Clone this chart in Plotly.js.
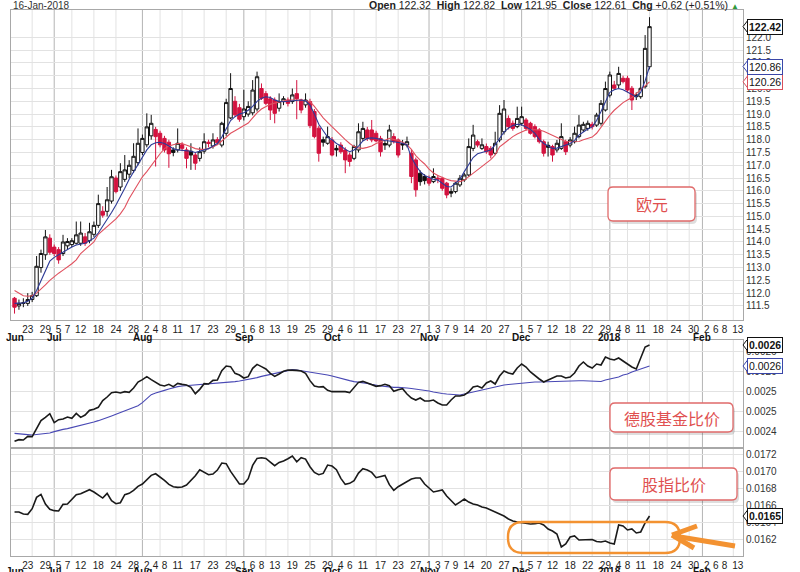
<!DOCTYPE html>
<html><head><meta charset="utf-8">
<script src="https://cdn.plot.ly/plotly-3.0.1.min.js"></script>
<style>html,body{margin:0;padding:0;background:#fff}#chart{width:800px;height:572px}</style>
</head><body><div id="chart"></div>
<script>
// ---------- trading-day calendar (x categories) ----------
const monthKeys = ['2017-06','2017-07','2017-08','2017-09','2017-10','2017-11','2017-12','2018-01','2018-02'];
const monthNames = ['Jun','Jul','Aug','Sep','Oct','Nov','Dec','2018','Feb'];
const monthDays = [
 [20,21,22,23,26,27,28,29,30],
 [3,5,6,7,10,11,12,13,14,17,18,19,20,21,24,25,26,27,28,31],
 [1,2,3,4,7,8,9,10,11,14,15,16,17,18,21,22,23,24,25,28,29,30,31],
 [1,5,6,7,8,11,12,13,14,15,18,19,20,21,22,25,26,27,28,29],
 [2,3,4,5,6,9,10,11,12,13,16,17,18,19,20,23,24,25,26,27,30,31],
 [1,2,3,6,7,8,9,10,13,14,15,16,17,20,21,22,24,27,28,29,30],
 [1,4,5,6,7,8,11,12,13,14,15,18,19,20,21,22,26,27,28,29],
 [2,3,4,5,8,9,10,11,12,16,17,18,19,22,23,24,25,26,29,30,31],
 [1,2,5,6,7,8,9,12,13]
];
const tickDates = ['2017-06-23','2017-06-29','2017-07-05','2017-07-07','2017-07-12','2017-07-18','2017-07-24','2017-07-28',
 '2017-08-02','2017-08-04','2017-08-08','2017-08-11','2017-08-17','2017-08-23','2017-08-29','2017-09-01','2017-09-06','2017-09-08',
 '2017-09-13','2017-09-19','2017-09-25','2017-09-29','2017-10-04','2017-10-06','2017-10-11','2017-10-17','2017-10-23','2017-10-27',
 '2017-11-01','2017-11-03','2017-11-07','2017-11-09','2017-11-14','2017-11-20','2017-11-27','2017-12-01','2017-12-05','2017-12-07',
 '2017-12-12','2017-12-18','2017-12-22','2017-12-29','2018-01-04','2018-01-08','2018-01-11','2018-01-18','2018-01-24','2018-01-30',
 '2018-02-02','2018-02-06','2018-02-08','2018-02-13'];
const gridDates = ['2017-06-26','2017-07-10','2017-07-17','2017-07-24','2017-08-07','2017-08-14','2017-08-21','2017-08-28',
 '2017-09-11','2017-09-18','2017-09-25','2017-10-09','2017-10-16','2017-10-23','2017-11-06','2017-11-13','2017-11-20','2017-11-27',
 '2017-12-11','2017-12-18','2017-12-26','2018-01-08','2018-01-16','2018-01-22','2018-01-29','2018-02-12'];

// ---------- Euro daily OHLC ----------
const opens = [111.80,111.50,111.60,111.60,111.75,111.90,113.00,113.50,114.15,113.80,
113.70,113.55,113.85,113.90,113.95,113.95,114.20,114.05,114.30,114.65,
115.20,115.20,115.60,116.50,116.15,116.45,116.65,116.80,117.10,117.50,
117.80,118.15,118.40,118.25,118.05,117.90,117.60,117.60,117.80,117.60,
117.55,117.40,117.27,117.55,117.90,117.75,118.00,117.79,118.25,118.85,
119.50,119.25,118.90,119.00,119.05,119.20,120.00,119.80,119.60,119.55,
119.23,119.49,119.55,119.49,119.80,119.55,119.36,119.49,119.10,118.45,
118.00,117.86,117.99,117.66,117.79,117.60,117.40,117.27,117.60,118.05,
118.38,118.38,118.25,118.05,117.85,117.79,118.12,117.99,117.85,117.79,
117.47,117.21,116.69,116.56,116.49,116.36,116.45,116.49,116.30,115.97,
115.97,116.23,116.43,116.62,117.66,117.92,117.66,117.73,117.66,117.47,
117.99,118.31,118.83,118.64,118.51,118.64,118.77,118.64,118.51,118.38,
117.92,117.78,117.73,117.60,117.66,117.92,117.79,117.92,118.12,118.38,
118.44,118.60,118.57,118.64,119.16,119.74,120.14,120.14,120.40,120.40,
120.01,119.75,119.68,120.07,120.85];
const highs = [111.85,111.75,111.80,112.00,112.05,113.45,113.70,114.47,114.30,113.90,
113.80,114.28,114.15,114.15,114.80,114.80,114.35,114.75,114.80,115.85,
115.40,116.15,116.82,116.60,117.08,117.40,117.20,117.86,118.44,118.20,
119.03,118.97,118.50,118.35,118.15,118.00,117.70,118.44,117.90,117.70,
117.86,117.50,117.70,118.25,118.00,118.25,118.10,118.70,119.60,120.60,
119.70,119.40,119.95,119.50,120.33,120.66,120.20,119.90,119.70,119.65,
119.81,119.70,119.65,120.00,120.33,119.60,119.81,119.60,119.20,118.55,
118.12,118.51,118.10,117.79,117.90,117.70,117.50,117.80,118.64,118.70,
118.50,118.77,118.35,118.15,117.95,118.58,118.25,118.05,117.99,118.12,
117.60,117.30,116.80,116.65,116.60,116.88,116.62,116.55,116.35,116.10,
116.35,116.62,116.70,118.05,118.58,118.00,118.05,117.85,117.75,118.31,
119.35,119.55,118.95,118.75,119.29,119.29,118.85,118.70,118.60,118.45,
118.00,117.92,117.80,117.99,118.64,118.00,118.10,118.51,118.96,118.70,
118.75,118.70,119.05,119.55,120.27,120.66,120.30,120.85,120.50,120.50,
120.10,119.85,120.53,122.09,122.79];
const lows = [111.20,111.35,111.45,111.50,111.65,111.85,112.80,113.30,113.50,113.45,
113.15,113.45,113.70,113.80,113.90,113.85,113.85,113.95,114.20,114.55,
114.95,115.00,115.50,115.90,116.00,116.35,116.50,116.70,117.00,117.40,
117.70,118.00,116.95,117.70,117.50,116.90,117.35,117.50,117.55,116.88,
116.82,116.82,117.15,117.45,117.70,117.65,117.80,117.70,118.15,118.80,
118.90,118.70,118.75,118.90,118.95,119.10,119.55,119.35,118.77,118.64,
119.10,119.35,119.30,119.40,118.80,119.03,119.25,118.45,118.05,117.14,
117.73,117.80,117.35,117.34,117.45,116.69,116.95,117.20,117.50,117.95,
117.95,117.90,117.90,117.34,117.60,117.70,117.85,117.30,117.60,117.70,
116.30,115.77,116.20,116.25,116.20,116.30,116.30,116.00,115.71,115.75,
115.90,116.15,116.35,116.55,117.55,117.70,117.60,117.45,117.27,117.40,
117.90,118.20,118.40,118.35,118.45,118.55,118.35,118.20,118.05,117.85,
117.34,117.34,117.14,117.50,117.60,117.40,117.70,117.85,118.05,118.30,
118.35,118.40,118.50,118.55,119.10,119.65,119.95,120.00,120.20,119.85,
119.16,119.55,119.60,120.00,120.75];
const closes = [111.45,111.60,111.62,111.75,111.90,113.05,113.55,114.20,113.60,113.55,
113.30,114.00,114.02,114.05,114.28,114.35,113.95,114.40,114.65,115.50,
115.05,115.65,116.55,115.97,116.75,116.82,117.00,117.35,117.86,118.05,
118.50,118.64,118.12,117.80,117.60,117.45,117.50,117.86,117.66,117.27,
117.40,117.08,117.53,117.92,117.85,117.99,117.88,118.64,119.45,120.00,
118.97,118.80,119.20,119.30,119.94,120.46,119.62,119.42,119.16,119.03,
119.49,119.60,119.42,119.75,119.60,119.16,119.55,118.55,118.12,117.47,
117.90,118.12,117.40,117.60,117.53,117.21,117.15,117.73,118.31,118.44,
118.05,117.99,117.95,117.53,117.79,118.38,117.92,117.40,117.79,117.92,
116.56,116.04,116.36,116.40,116.30,116.56,116.49,116.10,115.84,115.91,
116.30,116.49,116.62,117.73,118.18,117.79,117.80,117.53,117.40,117.86,
119.03,119.20,118.51,118.44,118.83,118.90,118.44,118.25,118.12,117.92,
117.47,117.70,117.40,117.86,118.12,117.53,117.99,118.25,118.57,118.60,
118.64,118.51,118.96,119.42,120.00,120.53,120.01,120.59,120.27,119.94,
119.55,119.68,120.01,121.57,122.42];
const maFast = [111.60,111.60,111.62,111.68,111.80,112.10,112.50,112.90,113.25,113.40,
113.50,113.60,113.72,113.80,113.88,113.93,113.95,114.05,114.15,114.35,
114.60,114.85,115.15,115.45,115.75,116.10,116.45,116.75,117.05,117.30,
117.60,117.80,117.88,117.90,117.85,117.75,117.65,117.60,117.58,117.55,
117.55,117.50,117.55,117.60,117.65,117.75,117.85,118.10,118.45,118.75,
118.90,119.00,119.05,119.15,119.30,119.50,119.62,119.68,119.65,119.55,
119.50,119.48,119.50,119.52,119.52,119.55,119.52,119.35,119.00,118.60,
118.35,118.10,118.00,117.85,117.75,117.62,117.53,117.60,117.75,117.95,
118.05,118.07,118.05,118.00,117.97,117.95,117.92,117.90,117.86,117.80,
117.30,117.00,116.75,116.60,116.52,116.45,116.42,116.30,116.17,116.15,
116.30,116.45,116.75,117.00,117.30,117.45,117.50,117.55,117.60,117.80,
118.05,118.30,118.45,118.55,118.60,118.58,118.50,118.40,118.25,118.00,
117.85,117.75,117.66,117.67,117.72,117.80,117.85,117.97,118.18,118.30,
118.42,118.50,118.75,119.10,119.50,119.85,119.95,120.00,119.95,119.85,
119.75,119.68,119.85,120.30,120.86];
const maSlow = [112.10,112.00,111.90,111.88,111.90,112.00,112.15,112.32,112.50,112.65,
112.78,112.90,113.02,113.15,113.30,113.55,113.70,113.85,114.00,114.30,
114.45,114.60,114.75,114.90,115.10,115.35,115.70,116.00,116.30,116.55,
116.75,117.00,117.25,117.45,117.65,117.75,117.80,117.85,117.85,117.80,
117.72,117.65,117.62,117.62,117.65,117.72,117.80,117.95,118.10,118.25,
118.35,118.45,118.55,118.65,118.85,119.05,119.20,119.30,119.38,119.43,
119.47,119.52,119.55,119.55,119.55,119.55,119.52,119.49,119.30,119.05,
118.85,118.68,118.50,118.35,118.18,118.00,117.85,117.73,117.68,117.66,
117.70,117.75,117.85,117.90,117.98,118.05,118.02,117.97,117.90,117.80,
117.62,117.38,117.20,117.05,116.85,116.70,116.60,116.52,116.45,116.40,
116.37,116.36,116.42,116.55,116.68,116.80,116.93,117.08,117.22,117.40,
117.72,117.85,118.00,118.12,118.22,118.30,118.38,118.40,118.40,118.38,
118.33,118.25,118.18,118.10,118.02,117.93,117.92,117.92,117.93,118.00,
118.05,118.10,118.25,118.50,118.75,118.96,119.15,119.30,119.45,119.55,
119.65,119.80,119.95,120.10,120.26];

// ---------- 德股基金比价 ----------
const fundRatio = [0.0024207,0.0024241,0.0024234,0.0024307,0.0024301,0.0024447,0.0024621,0.0024687,0.0024761,0.0024581,
0.0024641,0.0024654,0.0024694,0.0024667,0.0024767,0.0024687,0.0024734,0.0024827,0.0024847,0.0024887,
0.0025021,0.0025094,0.0025181,0.0025194,0.0025174,0.0025201,0.0025187,0.0025274,0.0025394,0.0025441,
0.0025501,0.0025441,0.0025387,0.0025334,0.0025314,0.0025347,0.0025301,0.0025367,0.0025347,0.0025334,
0.0025287,0.0025161,0.0025247,0.0025361,0.0025354,0.0025427,0.0025434,0.0025621,0.0025714,0.0025701,
0.0025567,0.0025534,0.0025474,0.0025501,0.0025667,0.0025747,0.0025701,0.0025654,0.0025567,0.0025507,
0.0025554,0.0025607,0.0025634,0.0025634,0.0025627,0.0025614,0.0025567,0.0025421,0.0025314,0.0025294,
0.0025301,0.0025227,0.0025201,0.0025201,0.0025201,0.0025201,0.0025181,0.0025287,0.0025387,0.0025407,
0.0025374,0.0025334,0.0025307,0.0025321,0.0025347,0.0025321,0.0025207,0.0025241,0.0025261,0.0025154,
0.0025074,0.0025034,0.0025074,0.0025014,0.0025014,0.0025034,0.0024974,0.0024934,0.0024934,0.0025034,
0.0025114,0.0025114,0.0025134,0.0025194,0.0025294,0.0025314,0.0025274,0.0025374,0.0025414,0.0025354,
0.0025514,0.0025614,0.0025574,0.0025554,0.0025674,0.0025754,0.0025694,0.0025594,0.0025514,0.0025454,
0.0025394,0.0025434,0.0025474,0.0025514,0.0025514,0.0025474,0.0025494,0.0025574,0.0025714,0.0025794,
0.0025714,0.0025674,0.0025754,0.0025734,0.0025894,0.0025854,0.0025834,0.0025874,0.0025814,0.0025754,
0.0025694,0.0025654,0.0025894,0.0026094,0.0026134];
const fundRatioMA = [0.0024367,0.0024354,0.0024347,0.0024341,0.0024334,0.0024341,0.0024347,0.0024354,0.0024374,0.0024401,
0.0024427,0.0024447,0.0024461,0.0024481,0.0024501,0.0024521,0.0024547,0.0024567,0.0024594,0.0024621,
0.0024647,0.0024681,0.0024714,0.0024747,0.0024781,0.0024821,0.0024854,0.0024887,0.0024921,0.0024981,
0.0025061,0.0025141,0.0025174,0.0025207,0.0025227,0.0025254,0.0025281,0.0025301,0.0025314,0.0025321,
0.0025327,0.0025334,0.0025334,0.0025341,0.0025347,0.0025361,0.0025367,0.0025374,0.0025381,0.0025394,
0.0025401,0.0025414,0.0025427,0.0025447,0.0025461,0.0025481,0.0025507,0.0025527,0.0025547,0.0025574,
0.0025594,0.0025607,0.0025627,0.0025641,0.0025634,0.0025621,0.0025607,0.0025594,0.0025567,0.0025561,
0.0025547,0.0025534,0.0025514,0.0025487,0.0025467,0.0025447,0.0025421,0.0025401,0.0025394,0.0025381,
0.0025367,0.0025347,0.0025327,0.0025314,0.0025307,0.0025294,0.0025287,0.0025287,0.0025274,0.0025274,
0.0025264,0.0025254,0.0025234,0.0025224,0.0025214,0.0025194,0.0025174,0.0025164,0.0025154,0.0025144,
0.0025134,0.0025134,0.0025154,0.0025174,0.0025194,0.0025224,0.0025244,0.0025264,0.0025284,0.0025304,
0.0025314,0.0025334,0.0025344,0.0025354,0.0025364,0.0025374,0.0025384,0.0025384,0.0025394,0.0025394,
0.0025398,0.0025404,0.0025408,0.0025414,0.0025414,0.0025416,0.0025418,0.0025420,0.0025420,0.0025418,
0.0025416,0.0025414,0.0025414,0.0025404,0.0025434,0.0025454,0.0025474,0.0025494,0.0025534,0.0025554,
0.0025594,0.0025624,0.0025654,0.0025684,0.0025714];

// ---------- 股指比价 ----------
const indexRatio = [0.016520,0.016520,0.016497,0.016493,0.016559,0.016692,0.016727,0.016614,0.016551,0.016536,
0.016532,0.016610,0.016614,0.016665,0.016723,0.016735,0.016762,0.016782,0.016755,0.016719,
0.016684,0.016739,0.016653,0.016618,0.016629,0.016723,0.016739,0.016774,0.016821,0.016848,
0.016895,0.016950,0.016969,0.016934,0.016891,0.016844,0.016817,0.016809,0.016813,0.016837,
0.016887,0.016946,0.017016,0.016989,0.016958,0.016966,0.017012,0.017095,0.017087,0.016997,
0.016915,0.016848,0.016848,0.016911,0.017067,0.017149,0.017157,0.017149,0.017106,0.017063,
0.017102,0.017118,0.017145,0.017177,0.017110,0.017157,0.017141,0.017051,0.016985,0.016958,
0.016973,0.017071,0.017059,0.017016,0.016915,0.016844,0.016856,0.016887,0.016977,0.017028,
0.017012,0.016985,0.016923,0.016938,0.016950,0.016841,0.016774,0.016817,0.016848,0.016872,
0.016907,0.016919,0.016919,0.016848,0.016801,0.016755,0.016766,0.016778,0.016708,0.016649,
0.016602,0.016637,0.016672,0.016637,0.016614,0.016602,0.016579,0.016567,0.016544,0.016520,
0.016497,0.016473,0.016438,0.016415,0.016403,0.016393,0.016384,0.016379,0.016384,0.016391,
0.016368,0.016321,0.016297,0.016262,0.016110,0.016145,0.016227,0.016239,0.016192,0.016192,
0.016198,0.016198,0.016174,0.016168,0.016180,0.016157,0.016145,0.016368,0.016356,0.016309,
0.016321,0.016274,0.016286,0.016391,0.016473];

// ---------- header / ticks ----------
const headerDate = '16-Jan-2018';
const hdrOpen = '122.32', hdrHigh = '122.82', hdrLow = '121.95', hdrClose = '122.61', hdrChg = '+0.62 (+0.51%)';
const priceTicks = [111.5,112,112.5,113,113.5,114,114.5,115,115.5,116,116.5,117,117.5,118,118.5,119,119.5,120,120.5,121,121.5,122];
const fundTicks = [0.00244,0.00248,0.00252,0.00256,0.00260];
const indexTicks = [0.0162,0.0164,0.0166,0.0168,0.0170,0.0172];
const labelEuro = '欧元', labelFund = '德股基金比价', labelIndex = '股指比价';

// ---------- build ----------
const dates = [];
monthKeys.forEach((m, k) => monthDays[k].forEach(d => dates.push(m + '-' + String(d).padStart(2, '0'))));
const idx = d => dates.indexOf(d);
const n = closes.length;
const xs = closes.map((_, i) => i);
const RED = '#d3123f';

const blackIds = [], redIds = [];
closes.forEach((c, i) => { const ref = i === 0 ? opens[0] : closes[i - 1]; (c >= ref ? blackIds : redIds).push(i); });
const pick = (arr, ids) => ids.map(i => arr[i]);
function candles(ids, col, fillDown) {
  return { type: 'candlestick', xaxis: 'x', yaxis: 'y', x: ids, open: pick(opens, ids), high: pick(highs, ids),
    low: pick(lows, ids), close: pick(closes, ids), whiskerwidth: 0, hoverinfo: 'skip',
    increasing: { line: { color: col, width: 1 }, fillcolor: '#ffffff' },
    decreasing: { line: { color: col, width: 1 }, fillcolor: fillDown } };
}
const data = [
  candles(blackIds, '#111111', '#111111'),
  candles(redIds, RED, RED),
  { type: 'scatter', mode: 'lines', x: xs, y: maSlow, xaxis: 'x', yaxis: 'y', line: { color: '#e0505e', width: 1.1 }, hoverinfo: 'skip' },
  { type: 'scatter', mode: 'lines', x: xs, y: maFast, xaxis: 'x', yaxis: 'y', line: { color: '#2d3a96', width: 1.1 }, hoverinfo: 'skip' },
  { type: 'scatter', mode: 'lines', x: xs, y: fundRatioMA, xaxis: 'x2', yaxis: 'y2', line: { color: '#4848b4', width: 1.1 }, hoverinfo: 'skip' },
  { type: 'scatter', mode: 'lines', x: xs, y: fundRatio, xaxis: 'x2', yaxis: 'y2', line: { color: '#1a1a1a', width: 1.6 }, hoverinfo: 'skip' },
  { type: 'scatter', mode: 'lines', x: xs, y: indexRatio, xaxis: 'x3', yaxis: 'y3', line: { color: '#1a1a1a', width: 1.6 }, hoverinfo: 'skip' }
];

const L = 11, R = 743, T = 10, B = 556, PW = R - L, PH = B - T;
const X = px => (px - L) / PW, Y = py => (B - py) / PH;
const xRange = [-0.8, 165.2];
const tickvals = tickDates.map(idx), ticktext = tickDates.map(d => String(parseInt(d.slice(8), 10)));
const baseX = { range: xRange, showgrid: false, zeroline: false, showline: true, mirror: true, linecolor: '#a8a8a8', linewidth: 1,
  ticks: '', tickangle: 0, tickvals: tickvals, ticktext: ticktext, tickfont: { size: 10, color: '#222' }, fixedrange: true };
const baseY = { side: 'right', showgrid: true, gridcolor: '#e2e2e2', gridwidth: 1, zeroline: false, showline: true, mirror: true,
  linecolor: '#a8a8a8', linewidth: 1, ticks: '', tickfont: { size: 10, color: '#333' }, fixedrange: true };

const shapes = [];
const refs = [['x', 'y'], ['x2', 'y2'], ['x3', 'y3']];
gridDates.forEach(d => { const i = idx(d); refs.forEach(r => shapes.push({ type: 'line', xref: r[0], yref: r[1] + ' domain', x0: i, x1: i, y0: 0, y1: 1, line: { color: '#e2e2e2', width: 1 }, layer: 'below' })); });
const monthStart = monthKeys.map(m => dates.findIndex(d => d.startsWith(m)));
monthStart.slice(1).forEach(i => refs.forEach(r => shapes.push({ type: 'line', xref: r[0], yref: r[1] + ' domain', x0: i, x1: i, y0: 0, y1: 1, line: { color: '#b4b4b4', width: 1 }, layer: 'below' })));

function roundRect(x0, y0, x1, y1, r) {
  const p = (a, b) => X(a) + ',' + Y(b);
  return 'M' + p(x0 + r, y0) + ' L' + p(x1 - r, y0) + ' Q' + p(x1, y0) + ' ' + p(x1, y0 + r) + ' L' + p(x1, y1 - r) +
    ' Q' + p(x1, y1) + ' ' + p(x1 - r, y1) + ' L' + p(x0 + r, y1) + ' Q' + p(x0, y1) + ' ' + p(x0, y1 - r) +
    ' L' + p(x0, y0 + r) + ' Q' + p(x0, y0) + ' ' + p(x0 + r, y0) + ' Z';
}
const boxes = [[608, 187, 695, 221, labelEuro], [610, 403, 733, 432, labelFund], [610, 468, 737, 500, labelIndex]];
const annotations = [];
boxes.forEach(b => {
  shapes.push({ type: 'path', xref: 'paper', yref: 'paper', path: roundRect(b[0] + 2, b[1] + 3, b[2] + 2, b[3] + 3, 5), fillcolor: 'rgba(0,0,0,0.13)', line: { width: 0 }, layer: 'above' });
  shapes.push({ type: 'path', xref: 'paper', yref: 'paper', path: roundRect(b[0], b[1], b[2], b[3], 5), fillcolor: '#ffffff', line: { color: '#e06a6a', width: 1.3 }, layer: 'above' });
  annotations.push({ xref: 'paper', yref: 'paper', x: X((b[0] + b[2]) / 2), y: Y((b[1] + b[3]) / 2), text: b[4], showarrow: false,
    xanchor: 'center', yanchor: 'middle', font: { family: 'Noto Sans CJK SC', size: 16, color: '#e05050' } });
});
// orange highlight + arrow
const ORANGE = '#f39231';
shapes.push({ type: 'path', xref: 'paper', yref: 'paper', path: roundRect(508, 522, 680, 553, 15), line: { color: ORANGE, width: 2.4 }, layer: 'above' });
[[674, 536, 735, 546], [672, 535, 697, 526], [672, 535, 694, 548]].forEach(s =>
  shapes.push({ type: 'line', xref: 'paper', yref: 'paper', x0: X(s[0]), y0: Y(s[1]), x1: X(s[2]), y1: Y(s[3]), line: { color: ORANGE, width: 5 }, layer: 'above' }));

// value tags on the right
function tag(yref, val, text, col, bold) {
  shapes.push({ type: 'path', xref: 'paper', yref: yref, xsizemode: 'pixel', ysizemode: 'pixel', xanchor: 1, yanchor: val,
    path: 'M0,0 L5,6.5 L5,-6.5 Z', fillcolor: '#ffffff', line: { color: col, width: 1 }, layer: 'above' });
  annotations.push({ xref: 'paper', yref: yref, x: 1, y: val, xshift: 4, xanchor: 'left', yanchor: 'middle', showarrow: false,
    text: bold ? '<b>' + text + '</b>' : text, bgcolor: '#ffffff', bordercolor: col, borderwidth: 1, borderpad: 1,
    font: { size: 10.5, color: '#111' } });
}
tag('y', maSlow[n - 1], maSlow[n - 1].toFixed(2), '#d9505c', false);
tag('y', maFast[n - 1], maFast[n - 1].toFixed(2), '#3a46a8', false);
tag('y', closes[n - 1], closes[n - 1].toFixed(2), '#111', true);
tag('y2', fundRatioMA[n - 1], fundRatioMA[n - 1].toFixed(4), '#3a46a8', false);
tag('y2', fundRatio[n - 1], fundRatio[n - 1].toFixed(4), '#111', true);
tag('y3', indexRatio[n - 1], indexRatio[n - 1].toFixed(4), '#111', true);

// month labels (second row under the day numbers)
monthStart.forEach((i, k) => {
  [Y(337), Y(571)].forEach(yy => annotations.push({ xref: 'x', yref: 'paper', x: i, y: yy, text: '<b>' + monthNames[k] + '</b>', showarrow: false,
    xanchor: 'center', yanchor: 'middle', font: { size: 10, color: '#111' } }));
});
// header
annotations.push({ xref: 'paper', yref: 'paper', x: 0, y: Y(5), xanchor: 'left', yanchor: 'middle', showarrow: false, text: headerDate, font: { size: 10, color: '#333' } });
annotations.push({ xref: 'paper', yref: 'paper', x: X(741), y: Y(5), xanchor: 'right', yanchor: 'middle', showarrow: false,
  text: '<b>Open</b> ' + hdrOpen + '  <b>High</b> ' + hdrHigh + '  <b>Low</b> ' + hdrLow + '  <b>Close</b> ' + hdrClose + '  <b>Chg</b> ' + hdrChg + ' <span style="color:#2e9a3a;font-size:8px">▲</span>',
  font: { size: 10.5, color: '#222' } });

const layout = {
  width: 800, height: 572, margin: { l: L, r: 800 - R, t: T, b: 572 - B }, paper_bgcolor: '#fff', plot_bgcolor: '#fff',
  showlegend: false, boxgap: 0.15, boxgroupgap: 0.1,
  font: { family: 'Arial, "Liberation Sans", sans-serif', size: 10, color: '#222' },
  xaxis: Object.assign({}, baseX, { anchor: 'y', rangeslider: { visible: false } }),
  xaxis2: Object.assign({}, baseX, { anchor: 'y2', showticklabels: false }),
  xaxis3: Object.assign({}, baseX, { anchor: 'y3' }),
  yaxis: Object.assign({}, baseY, { domain: [Y(320), 1], range: [110.95, 123.07], tickvals: priceTicks, ticktext: priceTicks.map(v => v.toFixed(1)) }),
  yaxis2: Object.assign({}, baseY, { domain: [Y(448), Y(340)], range: [0.0024074, 0.0026234], tickvals: fundTicks, ticktext: fundTicks.map(v => v.toFixed(4)) }),
  yaxis3: Object.assign({}, baseY, { domain: [0, Y(448)], range: [0.016004, 0.017271], tickvals: indexTicks, ticktext: indexTicks.map(v => v.toFixed(4)) }),
  shapes: shapes, annotations: annotations
};
Plotly.newPlot('chart', data, layout, { staticPlot: true, displayModeBar: false });
</script></body></html>
